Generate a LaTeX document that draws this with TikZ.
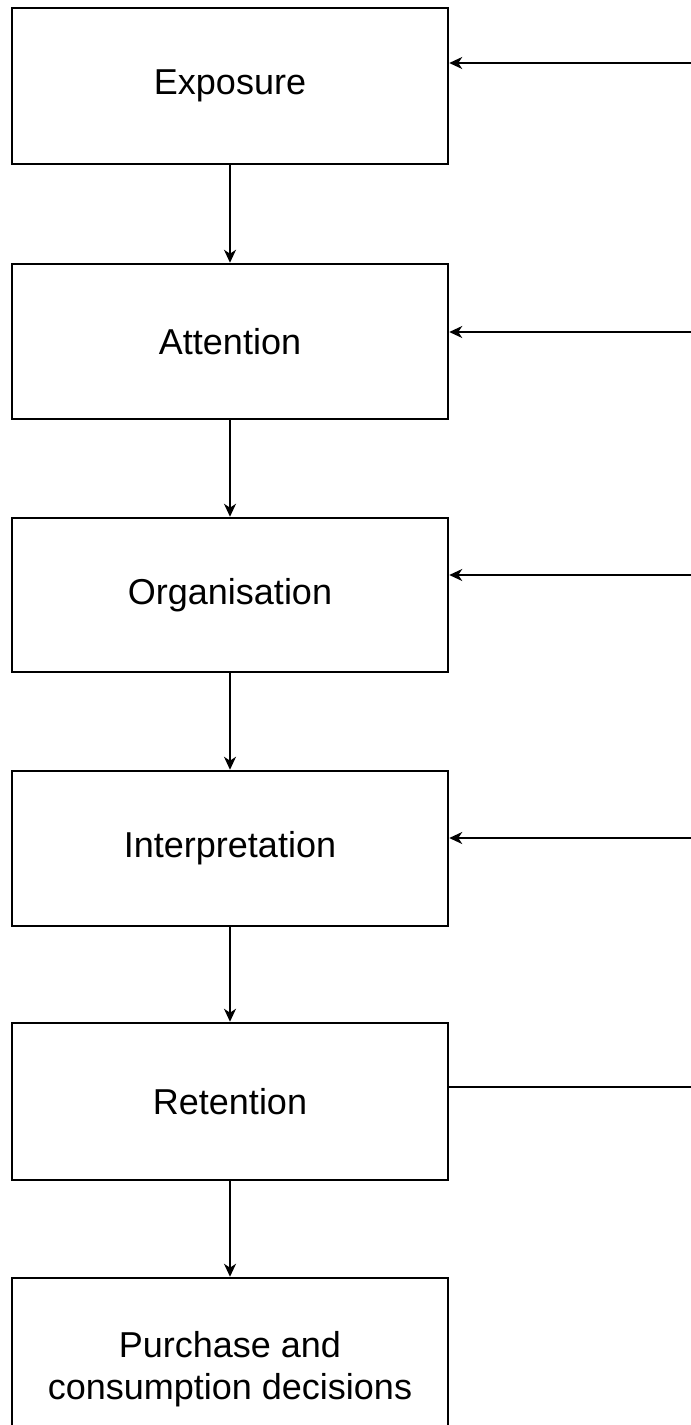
\documentclass[tikz,border=0pt]{standalone}
\usepackage{fontspec}
\setmainfont{Liberation Sans}
\usetikzlibrary{arrows.meta}

\begin{document}
\begin{tikzpicture}[x=1pt, y=-1pt,
    stage/.style={draw, line width=2.5pt, minimum width=436pt, inner sep=0pt,
      align=center, font=\fontsize{36}{42}\selectfont},
    link/.style={line width=2pt, -{Stealth[length=13pt, width=12pt, inset=4pt]}}]

      \useasboundingbox (0,0) rectangle (691,1425);

      %Stages
      \node [stage, minimum height=156pt] (expo)   at (230,86)     {Exposure};
      \node [stage, minimum height=155pt] (att)    at (230,341.5)  {Attention};
      \node [stage, minimum height=154pt] (org)    at (230,595)    {Organisation};
      \node [stage, minimum height=155pt] (interp) at (230,848.5)  {Interpretation};
      \node [stage, minimum height=157pt] (ret)    at (230,1101.5) {Retention};
      \node [stage, minimum height=182pt] (purch)  at (230,1369)
            {Purchase and\\consumption decisions};

      %Downward flow
      \foreach \from/\to in {expo/att, att/org, org/interp, interp/ret, ret/purch} {
        \draw [link] (\from) -- (\to);
      }

      %Inputs from the right
      \coordinate (in1) at (691,63);
      \coordinate (in2) at (691,332);
      \coordinate (in3) at (691,575);
      \coordinate (in4) at (691,838);
      \coordinate (out5) at (691,1087);
      \draw [link] (in1) -- (in1 -| expo.east);
      \draw [link] (in2) -- (in2 -| att.east);
      \draw [link] (in3) -- (in3 -| org.east);
      \draw [link] (in4) -- (in4 -| interp.east);
      %Retention, no arrow head
      \draw [line width=2pt] (ret.east |- out5) -- (out5);
\end{tikzpicture}
\end{document}
